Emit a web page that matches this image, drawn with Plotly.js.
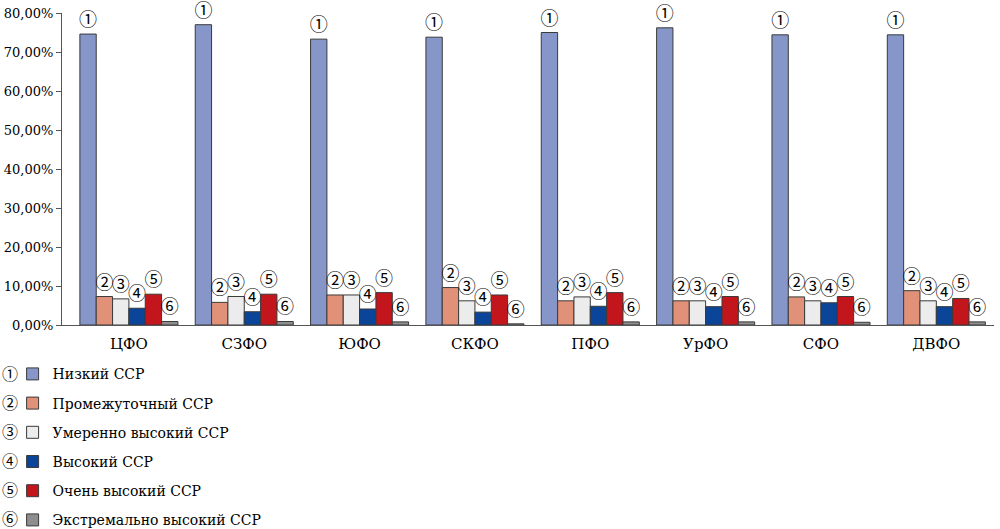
<!DOCTYPE html>
<html>
<head>
<meta charset="utf-8">
<script src="https://cdn.plot.ly/plotly-3.0.1.min.js"></script>
<style>html,body{margin:0;padding:0;background:#fff;}#chart{width:1000px;height:529px;}</style>
</head>
<body>
<div id="chart"></div>
<script>
const categories = ["ЦФО", "СЗФО", "ЮФО", "СКФО", "ПФО", "УрФО", "СФО", "ДВФО"];
const seriesNames = ["Низкий ССР", "Промежуточный ССР", "Умеренно высокий ССР", "Высокий ССР", "Очень высокий ССР", "Экстремально высокий ССР"];
const seriesMarks = ["①", "②", "③", "④", "⑤", "⑥"];
const low       = [74.6, 77.0, 73.3, 73.8, 75.0, 76.2, 74.4, 74.4];
const moderate  = [7.3, 5.8, 7.7, 9.6, 6.2, 6.2, 7.2, 8.8];
const modHigh   = [6.7, 7.3, 7.7, 6.2, 7.2, 6.2, 6.2, 6.2];
const high      = [4.3, 3.4, 4.1, 3.3, 4.8, 4.7, 5.7, 4.7];
const veryHigh  = [7.9, 7.9, 8.3, 7.7, 8.3, 7.3, 7.3, 6.8];
const extreme   = [0.9, 0.9, 0.8, 0.3, 0.8, 0.8, 0.7, 0.8];
const yTicks    = [0, 10, 20, 30, 40, 50, 60, 70, 80];
const yTickText = yTicks.map(v => v.toFixed(2).replace(".", ",") + "%");

const seriesValues = [low, moderate, modHigh, high, veryHigh, extreme];
const colors = ["#8796c9", "#e09178", "#ececec", "#0b4599", "#c2161c", "#8e8e8e"];
const serif = "DejaVu Serif";
const circ = "Noto Sans CJK JP";

const traces = seriesValues.map((vals, i) => ({
  type: "bar",
  name: seriesNames[i],
  x: categories,
  y: vals,
  text: vals.map(() => seriesMarks[i]),
  textposition: "outside",
  constraintext: "none",
  cliponaxis: false,
  textfont: {family: circ, size: 18, color: "#000"},
  marker: {color: colors[i], line: {color: "#3a3a3a", width: 1}},
  legendgroup: "g" + i,
  hoverinfo: "skip"
}));

const plotH = 312;
const row0 = -(373 - 325) / plotH;
const rowStep = 29.0 / plotH;
const annotations = seriesMarks.map((m, i) => ({
  xref: "paper", yref: "paper",
  x: -0.067, y: row0 - i * rowStep,
  xanchor: "left", yanchor: "middle",
  text: m, showarrow: false,
  font: {family: circ, size: 16, color: "#000"}
}));

const layout = {
  width: 1000, height: 529,
  margin: {l: 62, r: 6, t: 13, b: 204, autoexpand: false},
  paper_bgcolor: "#fff", plot_bgcolor: "#fff",
  barmode: "group",
  bargap: 0.15,
  bargroupgap: 0,
  showlegend: true,
  legend: {
    x: -0.053, y: row0 + 14.7 / plotH, xanchor: "left", yanchor: "top",
    orientation: "v",
    font: {family: serif, size: 14, color: "#000"},
    tracegroupgap: 8,
    bgcolor: "rgba(0,0,0,0)"
  },
  xaxis: {
    range: [-0.58, 7.5],
    showline: true, linecolor: "#555", linewidth: 1,
    ticks: "",
    ticklabelstandoff: 5,
    tickfont: {family: serif, size: 15, color: "#000"},
    showgrid: false, zeroline: false
  },
  yaxis: {
    range: [0, 80],
    tickvals: yTicks,
    ticktext: yTickText,
    showline: true, linecolor: "#555", linewidth: 1,
    ticks: "outside", ticklen: 5, tickcolor: "#555",
    tickfont: {family: serif, size: 13, color: "#000"},
    showgrid: false, zeroline: false
  },
  annotations: annotations
};

Plotly.newPlot("chart", traces, layout, {displayModeBar: false, staticPlot: true});
</script>
</body>
</html>
